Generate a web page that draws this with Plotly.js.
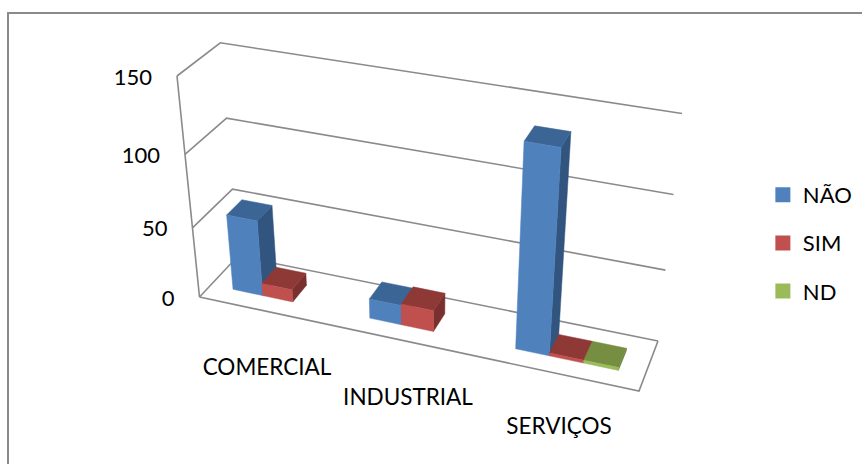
<!DOCTYPE html>
<html><head><meta charset="utf-8">
<script src="https://cdn.plot.ly/plotly-3.0.1.min.js"></script>
<style>html,body{margin:0;padding:0;background:#fff}#c{width:862px;height:464px}</style>
</head><body><div id="c"></div>
<script>
var categories = ['COMERCIAL','INDUSTRIAL','SERVIÇOS'];
var seriesNames = ['NÃO','SIM','ND'];
var nao = [54, 14, 137];
var sim = [9, 15, 2];
var nd  = [0, 0, 2];
var yTicks = [0, 50, 100, 150];
var frontColors = ['#4F81BD','#C0504D','#9BBB59'];
var topColors   = ['#3B6595','#8E3936','#758E42'];
var sideColors  = ['#31557F','#7A302E','#637A38'];
var gridColor = '#8A8A8A';
var fontFam = 'Lato, sans-serif';

// perspective camera of the chart box: u along categories, v depth, w value
var O=[199.5,297], B=[639,391], D=[238,256], E=[177,76];
var a=-0.0938, b=0.0507, c=-0.09;
var Vu=[B[0]*(1+a)-O[0], B[1]*(1+a)-O[1]];
var Vv=[D[0]*(1+b)-O[0], D[1]*(1+b)-O[1]];
var Vw=[E[0]*(1+c)-O[0], E[1]*(1+c)-O[1]];
var yMax=150;
function P(u,v,val){
  var w=val/yMax, d=1+a*u+b*v+c*w;
  return [(O[0]+u*Vu[0]+v*Vv[0]+w*Vw[0])/d,(O[1]+u*Vu[1]+v*Vv[1]+w*Vw[1])/d];
}
var traces=[];
function line(pts){
  traces.push({type:'scatter',mode:'lines',x:pts.map(function(p){return p[0]}),y:pts.map(function(p){return p[1]}),
    line:{color:gridColor,width:1.6},hoverinfo:'skip',showlegend:false});
}
function poly(pts,col){
  traces.push({type:'scatter',mode:'lines',x:pts.map(function(p){return p[0]}).concat(pts[0][0]),y:pts.map(function(p){return p[1]}).concat(pts[0][1]),
    fill:'toself',fillcolor:col,line:{color:col,width:0.5},hoverinfo:'skip',showlegend:false});
}
// walls and floor
yTicks.forEach(function(t){ line([P(0,0,t),P(0,1,t),P(1,1,t)]); });
line([P(0,0,0),P(0,0,yMax)]);
line([P(0,0,0),P(1,0,0),P(1,1,0)]);

// bars
var seriesVals=[nao,sim,nd];
var catW=1/categories.length, gap=1.5, barW=catW/(seriesVals.length+gap);
var v0=0.29, v1=0.68;
categories.forEach(function(cat,i){
  seriesVals.forEach(function(vals,s){
    var val=vals[i]; if(!val) return;
    var u0=i*catW+barW*gap/2+s*barW, u1=u0+barW;
    poly([P(u1,v0,0),P(u1,v1,0),P(u1,v1,val),P(u1,v0,val)],sideColors[s]);
    poly([P(u0,v0,val),P(u1,v0,val),P(u1,v1,val),P(u0,v1,val)],topColors[s]);
    poly([P(u0,v0,0),P(u1,v0,0),P(u1,v0,val),P(u0,v0,val)],frontColors[s]);
  });
});
// value labels on the axis
var tickPos=yTicks.map(function(t){return P(0,0,t)});
traces.push({type:'scatter',mode:'text',x:tickPos.map(function(p){return p[0]-25}),y:tickPos.map(function(p){return p[1]+3}),
  text:yTicks.map(String),textposition:'middle left',textfont:{family:fontFam,size:22,color:'#000'},hoverinfo:'skip',showlegend:false});
// category labels
var catX=[267,408,559], catY=[369,399,428];
traces.push({type:'scatter',mode:'text',x:catX,y:catY,text:categories,textposition:'middle center',
  textfont:{family:fontFam,size:22.5,color:'#000'},hoverinfo:'skip',showlegend:false});
// legend entries
seriesNames.forEach(function(n,s){
  traces.push({type:'scatter',mode:'markers',name:n,x:[null],y:[null],marker:{symbol:'square',size:15,color:frontColors[s]},legendgroup:n});
});
Plotly.newPlot('c',traces,{
  width:862,height:464,margin:{l:0,r:0,t:0,b:0},paper_bgcolor:'#fff',plot_bgcolor:'#fff',
  xaxis:{range:[0,862],visible:false,fixedrange:true},
  yaxis:{range:[464,0],visible:false,fixedrange:true},
  showlegend:true,
  legend:{x:0.885,y:0.625,xanchor:'left',yanchor:'top',font:{family:fontFam,size:22,color:'#000'},tracegroupgap:16.5,itemwidth:30,bgcolor:'rgba(0,0,0,0)'},
  shapes:[{type:'rect',xref:'paper',yref:'paper',x0:8/862,x1:1.02,y0:-0.02,y1:1-13/464,line:{color:'#8A8A8A',width:2}}]
},{displayModeBar:false,staticPlot:true});
</script></body></html>
